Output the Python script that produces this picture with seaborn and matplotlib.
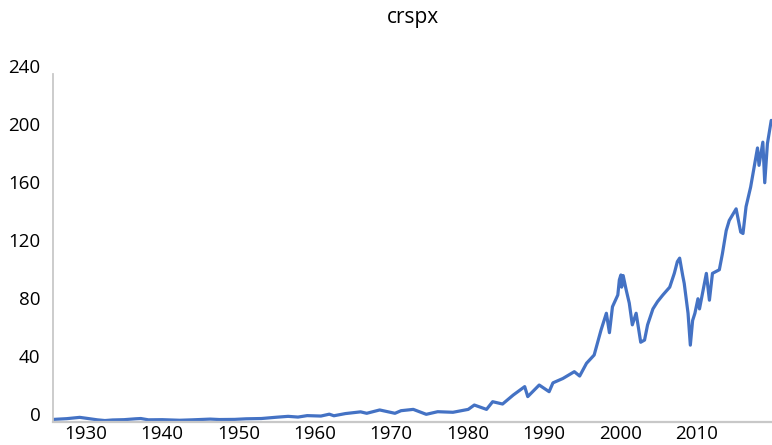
import matplotlib
matplotlib.use("Agg")
import matplotlib.pyplot as plt
import matplotlib.transforms as mtransforms
import seaborn as sns
import pandas as pd

# --- data ---
years = [1925.8, 1927.5, 1929.2, 1930.3, 1931.5, 1932.5, 1933.5, 1935.0, 1936.5, 1937.2,
         1938.2, 1940.0, 1942.3, 1944.0, 1946.3, 1947.5, 1949.5, 1951.0, 1953.0, 1955.0,
         1956.5, 1957.8, 1959.0, 1960.8, 1961.9, 1962.5, 1964.0, 1966.0, 1966.8, 1968.5,
         1970.5, 1971.3, 1972.9, 1974.6, 1976.1, 1978.1, 1980.1, 1980.9, 1982.5, 1983.3,
         1984.6, 1986.0, 1987.5, 1987.9, 1989.4, 1990.7, 1991.2, 1992.5, 1994.0, 1994.7,
         1995.6, 1996.6, 1997.5, 1998.2, 1998.6, 1999.0, 1999.7, 1999.9, 2000.1, 2000.2,
         2000.4, 2000.8, 2001.2, 2001.6, 2002.1, 2002.7, 2003.2, 2003.6, 2004.3, 2004.9,
         2005.6, 2006.5, 2007.1, 2007.5, 2007.8, 2008.2, 2008.4, 2008.9, 2009.2, 2009.5,
         2009.8, 2010.2, 2010.4, 2011.3, 2011.7, 2012.1, 2013.0, 2013.4, 2013.9, 2014.3,
         2015.2, 2015.8, 2016.1, 2016.5, 2017.1, 2018.0, 2018.2, 2018.7, 2018.95, 2019.3,
         2019.8]
crspx = [1.8, 2.3, 3.2, 2.4, 1.5, 1.0, 1.4, 1.6, 2.2, 2.4,
         1.5, 1.6, 1.2, 1.5, 2.0, 1.7, 1.8, 2.2, 2.4, 3.3,
         3.9, 3.4, 4.4, 4.1, 5.4, 4.3, 5.8, 7.0, 6.0, 8.3,
         6.0, 7.8, 8.7, 5.3, 7.1, 6.7, 8.7, 11.7, 8.7, 14.0,
         12.4, 18.6, 24.4, 17.5, 25.5, 20.9, 27.0, 30.0, 34.7, 31.7,
         40.5, 46.2, 63.4, 75.0, 61.6, 79.5, 87.6, 98.0, 101.4, 93.0,
         101.0, 91.0, 82.0, 67.0, 75.0, 55.0, 56.5, 67.0, 78.0, 83.0,
         87.6, 93.0, 102.5, 110.6, 113.0, 101.0, 95.6, 75.0, 53.0, 70.0,
         75.0, 85.0, 78.0, 102.5, 84.0, 102.5, 105.0, 116.0, 132.0, 139.0,
         147.0, 131.0, 130.0, 148.5, 162.0, 189.0, 177.0, 193.0, 165.0, 192.0,
         208.0]
x_ticks = [1930, 1940, 1950, 1960, 1970, 1980, 1990, 2000, 2010]
y_ticks = [0, 40, 80, 120, 160, 200, 240]
title = "crspx"

df = pd.DataFrame({"year": years, "crspx": crspx})

sns.set_theme(style="white")
plt.rcParams["font.family"] = ["Open Sans", "DejaVu Sans"]

fig = plt.figure(figsize=(7.72, 4.45), dpi=100)
ax = fig.add_axes([53 / 772, 23 / 445, 719 / 772, 348 / 445])

sns.lineplot(data=df, x="year", y="crspx", ax=ax, color="#4472C4", linewidth=2.3)

ax.set_xlim(1925.7, 2019.9)
ax.set_ylim(0, 240)
ax.set_xticks(x_ticks)
ax.set_yticks(y_ticks)
ax.set_xticklabels([str(v) for v in x_ticks])
ax.set_yticklabels([str(v) for v in y_ticks])
ax.set_xlabel("")
ax.set_ylabel("")
ax.tick_params(axis="both", length=0, labelsize=13.5, colors="#000000")
ax.tick_params(axis="x", pad=2)
ax.tick_params(axis="y", pad=9)

offset = mtransforms.ScaledTranslation(0, 0.08, fig.dpi_scale_trans)
for lbl in ax.get_yticklabels():
    lbl.set_transform(lbl.get_transform() + offset)

for side in ["top", "right"]:
    ax.spines[side].set_visible(False)
ax.spines["left"].set_color("#C8C8C8")
ax.spines["left"].set_linewidth(1.3)
ax.spines["bottom"].set_color("#C8C8C8")
ax.spines["bottom"].set_linewidth(1.6)
ax.grid(False)

fig.text(413 / 772, 1 - 17 / 445, title, ha="center", va="center", fontsize=15, color="#000000")

fig.savefig("out.png", dpi=100)
